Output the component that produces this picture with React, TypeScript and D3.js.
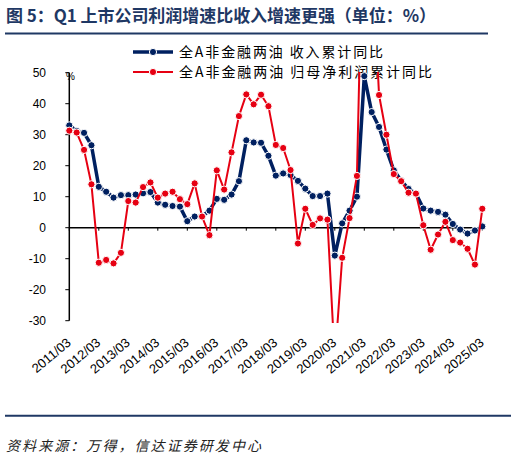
import React from 'react';
import * as d3 from 'd3';

// 季度累计同比（%），2011/03 - 2025/03
const years = d3.range(2011, 2026).map((y) => `${y}/03`);

const revenueYoy: number[] = [
  33.0, 31.2, 30.6, 26.6, 13.2, 11.6, 9.7, 10.5, 10.5, 10.7, 11.1, 11.5,
  8.1, 7.4, 7.0, 6.8, 2.1, 3.6, 3.7, 5.5, 9.3, 9.0, 10.7, 15.0,
  28.2, 27.5, 27.4, 23.2, 16.8, 17.5, 17.0, 15.1, 12.6, 10.2, 10.2, 11.0,
  -9.0, 1.4, 5.5, 10.0, 48.9, 37.3, 32.5, 25.2, 18.5, 15.2, 12.5, 11.0,
  6.2, 5.5, 5.1, 4.2, 1.2, -0.6, -1.9, -0.9, 0.4,
];

const profitYoy: number[] = [
  31.3, 30.7, 25.1, 14.0, -11.3, -10.4, -11.5, -8.1, 8.6, 8.1, 13.1, 14.6,
  9.7, 11.0, 11.6, 9.2, 7.6, 14.3, 3.6, -2.4, 18.5, 12.3, 24.3, 36.0,
  43.0, 39.8, 42.9, 39.2, 26.7, 25.7, 18.6, -5.1, 6.1, 0.9, 3.0, 2.6,
  -43.0, -9.7, 3.1, 16.7, 120.0, 90.0, 42.8, 30.0, 17.3, 15.0, 11.3, 11.0,
  0.8, -7.1, -2.2, 1.9, -4.0, -4.8, -6.8, -11.9, 6.1,
];

const yTicks = [50, 40, 30, 20, 10, 0, -10, -20, -30];

const seriesNames = ['全A非金融两油 收入累计同比', '全A非金融两油 归母净利润累计同比'];

const BLUE = '#002060';
const RED = '#e60012';
const NAVY = '#1f3864';
const W = 518;
const H = 456;

const App: React.FC = () => {
  const x = d3.scaleLinear().domain([0, revenueYoy.length - 1]).range([69.3, 482.3]);
  const y = d3.scaleLinear().domain([-30, 50]).range([320.7, 72.7]);

  const line = d3
    .line<number>()
    .x((_, i) => x(i))
    .y((d) => y(d));

  const num = "'Liberation Sans', Arial, sans-serif";
  const cjk = "'Noto Sans CJK SC', sans-serif";

  const drawSeries = (data: number[], color: string, width: number) => (
    <g clipPath="url(#plot)">
      <path d={line(data) ?? ''} fill="none" stroke={color} strokeWidth={width} strokeLinejoin="round" />
      {data.map((d, i) => (
        <circle key={i} cx={x(i)} cy={y(d)} r={3.6} fill={color} stroke="#fff" strokeWidth={1} />
      ))}
    </g>
  );

  return (
    <svg width={W} height={H} style={{ position: 'absolute', left: 0, top: 0, background: '#fff' }}>
      <defs>
        <clipPath id="plot">
          <rect x={55} y={72} width={445} height={251} />
        </clipPath>
      </defs>

      {/* 标题 */}
      <text x={6} y={22} fontFamily={cjk} fontWeight={700} fontSize={17} fill={NAVY}
        textLength={430} lengthAdjust="spacing">
        图 5：Q1 上市公司利润增速比收入增速更强（单位：%）
      </text>
      <line x1={5} x2={488} y1={33.5} y2={33.5} stroke={NAVY} strokeWidth={2} />

      {/* 图例 */}
      {seriesNames.map((name, k) => {
        const ly = 52 + k * 20;
        const c = k === 0 ? BLUE : RED;
        return (
          <g key={name}>
            <line x1={133} x2={173} y1={ly} y2={ly} stroke={c} strokeWidth={k === 0 ? 3.5 : 2} />
            <circle cx={153} cy={ly} r={3.6} fill={c} stroke="#fff" strokeWidth={1} />
            <text x={179} y={ly} dy="0.35em" fontFamily={cjk} fontSize={14} fill="#000"
              textLength={k === 0 ? 204 : 253} lengthAdjust="spacing">
              {name}
            </text>
          </g>
        );
      })}

      {/* y 轴 */}
      <line x1={x(0)} x2={x(0)} y1={y(50)} y2={y(-30)} stroke="#000" strokeWidth={1.5} />
      {yTicks.map((t) => (
        <g key={t}>
          <line x1={x(0) - 4} x2={x(0)} y1={y(t)} y2={y(t)} stroke="#000" strokeWidth={1} />
          <text x={46} y={y(t)} dy="0.35em" textAnchor="end" fontFamily={num} fontSize={12} fill="#000">
            {t}
          </text>
        </g>
      ))}
      <text x={66} y={80} fontFamily={num} fontSize={10} fill="#000">%</text>

      {/* x 轴 */}
      <line x1={x(0)} x2={x(revenueYoy.length - 1) + 3} y1={y(0)} y2={y(0)} stroke="#000" strokeWidth={1.5} />
      {years.map((lab, j) => {
        const xi = x(j * 4);
        return (
          <g key={lab}>
            <line x1={xi} x2={xi} y1={y(0)} y2={y(0) + 3} stroke="#000" strokeWidth={1} />
            <text transform={`translate(${xi + 2.5},344) rotate(-40)`} textAnchor="end"
              fontFamily={num} fontSize={13} fill="#000">
              {lab}
            </text>
          </g>
        );
      })}

      {drawSeries(revenueYoy, BLUE, 3.5)}
      {drawSeries(profitYoy, RED, 2)}

      {/* 底部 */}
      <line x1={5} x2={511} y1={415.7} y2={415.7} stroke={NAVY} strokeWidth={2} />
      <text x={6} y={451} fontFamily={cjk} fontStyle="italic" fontSize={14} fill="#222"
        textLength={255} lengthAdjust="spacing">
        资料来源：万得，信达证券研发中心
      </text>
    </svg>
  );
};

export default App;
